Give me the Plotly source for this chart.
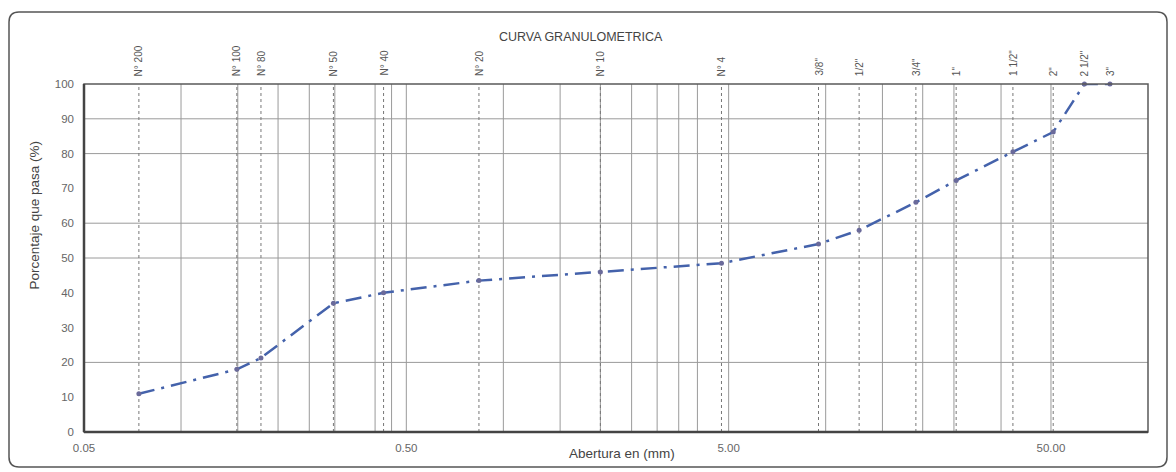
import math
import plotly.graph_objects as go

# ---- data ----
sieve_labels = ['N° 200', 'N° 100', 'N° 80', 'N° 50', 'N° 40', 'N° 20', 'N° 10', 'N° 4',
                '3/8"', '1/2"', '3/4"', '1"', '1 1/2"', '2"', '2 1/2"', '3"']
sieve_mm = [0.074, 0.149, 0.177, 0.297, 0.425, 0.84, 2.0, 4.75,
            9.5, 12.7, 19.05, 25.4, 38.1, 50.8, 63.5, 76.2]
pct_passing = [11, 18, 21.3, 37, 40, 43.5, 46, 48.5,
               54, 58, 66, 72.3, 80.5, 86.2, 100, 100]
dashed_sieves = sieve_mm[:14]

x_ticks = [0.05, 0.5, 5, 50]
x_ticktext = ['0.05', '0.50', '5.00', '50.00']
y_ticks = [0, 10, 20, 30, 40, 50, 60, 70, 80, 90, 100]
v_grid = [0.1, 0.15, 0.2, 0.25, 0.3, 0.4, 0.45, 0.5, 1.0, 1.5, 2.0, 2.5, 3.0, 3.5, 4.0, 5.0,
          10, 15, 20, 25, 35, 50]
h_grid = [20, 50, 60, 80, 90]

# ---- geometry (screen pixels; the page body adds an 8px offset) ----
OFF = 8
W, H = 1176 - OFF, 472 - OFF
L, R, T, B = 84, 1148, 84, 432
def px(x):
    return (x - L) / (R - L)
def py(y):
    return (B - y) / (B - T)

fig = go.Figure()

shapes = []
for g in v_grid:
    shapes.append(dict(type='line', xref='x', yref='y', x0=g, x1=g, y0=0, y1=100,
                       line=dict(color='#9a9a9a', width=1), layer='below'))
for g in h_grid:
    shapes.append(dict(type='line', xref='paper', yref='y', x0=0, x1=1, y0=g, y1=g,
                       line=dict(color='#9a9a9a', width=1), layer='below'))
for s in dashed_sieves:
    shapes.append(dict(type='line', xref='x', yref='y', x0=s, x1=s, y0=0, y1=100,
                       line=dict(color='#777777', width=1, dash='3px,3px'), layer='below'))
# plot frame
shapes.append(dict(type='rect', xref='paper', yref='paper', x0=0, x1=1, y0=0, y1=1,
                   line=dict(color='#5a5a5a', width=1.5)))
shapes.append(dict(type='line', xref='paper', yref='paper', x0=0, x1=0, y0=0, y1=1,
                   line=dict(color='#444444', width=2.5)))
shapes.append(dict(type='line', xref='paper', yref='paper', x0=0, x1=1, y0=0, y1=0,
                   line=dict(color='#444444', width=2.5)))
# outer rounded chart border
x0, x1, y0, y1, r = 9, 1167, 12, 467, 10
path = (f"M {px(x0+r)},{py(y0)} L {px(x1-r)},{py(y0)} Q {px(x1)},{py(y0)} {px(x1)},{py(y0+r)} "
        f"L {px(x1)},{py(y1-r)} Q {px(x1)},{py(y1)} {px(x1-r)},{py(y1)} "
        f"L {px(x0+r)},{py(y1)} Q {px(x0)},{py(y1)} {px(x0)},{py(y1-r)} "
        f"L {px(x0)},{py(y0+r)} Q {px(x0)},{py(y0)} {px(x0+r)},{py(y0)} Z")
shapes.append(dict(type='path', xref='paper', yref='paper', path=path,
                   line=dict(color='#555555', width=1.5)))

fig.add_trace(go.Scatter(
    x=sieve_mm, y=pct_passing, mode='lines+markers',
    line=dict(color='#4462ab', width=2.5, dash='16px,7px,3px,7px'),
    marker=dict(color='#6a6a9a', size=5),
    showlegend=False, cliponaxis=False))

font_family = 'Liberation Sans, Arial, sans-serif'
annotations = []
for lab, s in zip(sieve_labels, sieve_mm):
    annotations.append(dict(x=math.log10(s), y=py(78), xref='x', yref='paper', text=lab,
                            textangle=-90, showarrow=False, xanchor='center', yanchor='bottom',
                            font=dict(family=font_family, size=10, color='#555555')))
annotations.append(dict(x=px(581), y=py(28), xref='paper', yref='paper', text='CURVA GRANULOMETRICA',
                        showarrow=False, font=dict(family=font_family, size=12.5, color='#444444')))
annotations.append(dict(x=px(622), y=py(463), xref='paper', yref='paper', text='Abertura en (mm)',
                        showarrow=False, font=dict(family=font_family, size=13.5, color='#444444')))
annotations.append(dict(x=px(25), y=py(215), xref='paper', yref='paper', text='Porcentaje que pasa (%)',
                        textangle=-90, showarrow=False,
                        font=dict(family=font_family, size=13.5, color='#444444')))

fig.update_layout(
    width=W, height=H,
    margin=dict(l=L - OFF, r=W - (R - OFF), t=T - OFF, b=H - (B - OFF)),
    paper_bgcolor='white', plot_bgcolor='white',
    shapes=shapes, annotations=annotations,
    xaxis=dict(type='log', range=[math.log10(0.05), math.log10(100)],
               tickvals=x_ticks, ticktext=x_ticktext, showgrid=False, zeroline=False,
               showline=False, ticks='', ticklabelstandoff=7,
               tickfont=dict(family=font_family, size=11.5, color='#666666')),
    yaxis=dict(range=[0, 100], tickvals=y_ticks, showgrid=False, zeroline=False,
               showline=False, ticks='', ticklabelstandoff=9,
               tickfont=dict(family=font_family, size=11.5, color='#666666')),
)

fig.write_html('out.html')
